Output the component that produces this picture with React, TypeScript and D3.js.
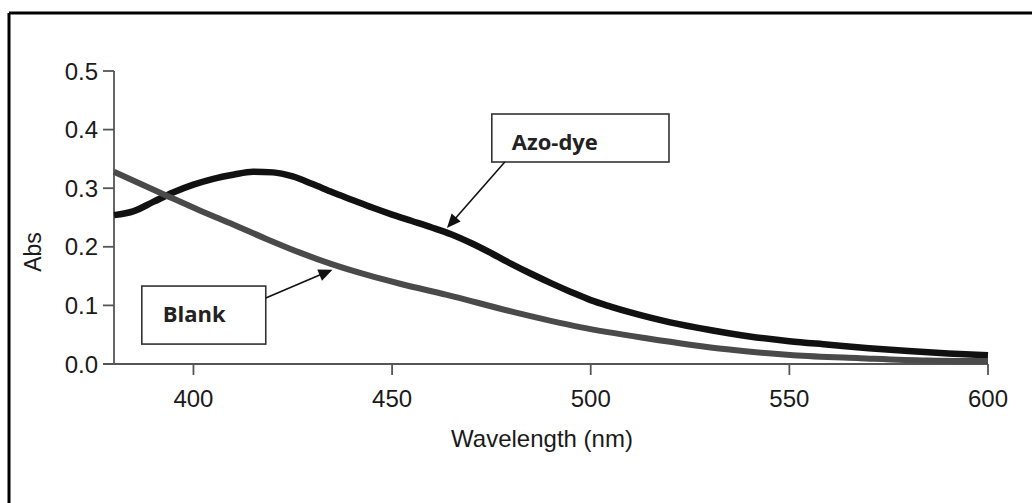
import React from "react";
import * as d3 from "d3";

// Wavelength (nm) sample points and absorbance values
const azoWavelengths = [380, 385, 390, 395, 400, 405, 410, 415, 420, 425, 430, 435, 440, 445, 450, 455, 460, 465, 470, 475, 480, 485, 490, 495, 500, 505, 510, 515, 520, 530, 540, 550, 560, 570, 580, 590, 600];
const azoAbs = [0.254, 0.261, 0.277, 0.293, 0.306, 0.316, 0.323, 0.328, 0.327, 0.320, 0.307, 0.293, 0.280, 0.267, 0.255, 0.244, 0.233, 0.221, 0.206, 0.189, 0.171, 0.154, 0.138, 0.123, 0.109, 0.098, 0.088, 0.079, 0.071, 0.058, 0.047, 0.039, 0.033, 0.027, 0.022, 0.018, 0.015];

const blankWavelengths = [380, 393, 401.6, 410, 418.5, 426.8, 435, 443.7, 452, 463.8, 480.4, 497.3, 514, 534.3, 551, 567.8, 584.6, 600];
const blankAbs = [0.328, 0.288, 0.262, 0.238, 0.213, 0.190, 0.170, 0.152, 0.137, 0.118, 0.089, 0.063, 0.044, 0.025, 0.015, 0.010, 0.006, 0.005];

const xTicks = [400, 450, 500, 550, 600];
const yTicks = [0.0, 0.1, 0.2, 0.3, 0.4, 0.5];

const xLabel = "Wavelength (nm)";
const yLabel = "Abs";
const seriesNames = ["Azo-dye", "Blank"];

function Arrow({ x1, y1, x2, y2 }: { x1: number; y1: number; x2: number; y2: number }) {
  const dx = x2 - x1;
  const dy = y2 - y1;
  const len = Math.sqrt(dx * dx + dy * dy);
  const ux = dx / len;
  const uy = dy / len;
  const hl = 14;
  const hw = 6;
  const bx = x2 - ux * hl;
  const by = y2 - uy * hl;
  const pts = [
    [x2, y2],
    [bx - uy * hw, by + ux * hw],
    [bx + uy * hw, by - ux * hw],
  ];
  return (
    <g>
      <line x1={x1} y1={y1} x2={bx + ux * 2} y2={by + uy * 2} stroke="#111" strokeWidth={1.6} />
      <polygon points={pts.map((p) => p.join(",")).join(" ")} fill="#111" />
    </g>
  );
}

export default function App() {
  const W = 1032;
  const H = 503;
  const x = d3.scaleLinear().domain([380, 600]).range([114, 988]);
  const y = d3.scaleLinear().domain([0, 0.5]).range([364, 71]);
  const line = d3
    .line<[number, number]>()
    .x((d) => x(d[0]))
    .y((d) => y(d[1]))
    .curve(d3.curveMonotoneX);

  const azoPts = azoWavelengths.map((w, i) => [w, azoAbs[i]] as [number, number]);
  const blankPts = blankWavelengths.map((w, i) => [w, blankAbs[i]] as [number, number]);

  const axisColor = "#555";
  const tickLen = 11;
  const tickFont = "'Liberation Sans', Arial, sans-serif";
  const annFont = "'Open Sans', 'Noto Sans', sans-serif";

  const x0 = x.range()[0];
  const xEnd = x.range()[1];
  const yBase = y(0);

  // annotation boxes (data coordinates)
  const azoBox = { x0: x(475.1), x1: x(519.7), y0: y(0.4266), y1: y(0.3447) };
  const blankBox = { x0: x(387.0), x1: x(418.2), y0: y(0.133), y1: y(0.034) };

  return (
    <svg
      width={W}
      height={H}
      style={{ position: "absolute", left: 0, top: 0, background: "#fff" }}
    >
      <rect x={0} y={0} width={W} height={H} fill="#fff" />
      {/* outer frame */}
      <line x1={9} y1={13} x2={W} y2={13} stroke="#000" strokeWidth={3} />
      <line x1={9} y1={13} x2={9} y2={H} stroke="#000" strokeWidth={3} />

      {/* y axis */}
      <line x1={x0} y1={y(0.5)} x2={x0} y2={yBase} stroke={axisColor} strokeWidth={1.8} />
      {yTicks.map((t) => (
        <g key={"y" + t}>
          <line x1={x0 - tickLen} x2={x0} y1={y(t)} y2={y(t)} stroke={axisColor} strokeWidth={1.8} />
          <text
            x={x0 - tickLen - 5}
            y={y(t)}
            dy="0.36em"
            textAnchor="end"
            fontFamily={tickFont}
            fontSize={24}
            fill="#1a1a1a"
          >
            {t.toFixed(1)}
          </text>
        </g>
      ))}
      {/* x axis */}
      <line x1={x0 - tickLen} y1={yBase} x2={xEnd} y2={yBase} stroke={axisColor} strokeWidth={1.8} />
      {xTicks.map((t) => (
        <g key={"x" + t}>
          <line x1={x(t)} x2={x(t)} y1={yBase} y2={yBase + tickLen} stroke={axisColor} strokeWidth={1.8} />
          <text
            x={x(t)}
            y={yBase + 43}
            textAnchor="middle"
            fontFamily={tickFont}
            fontSize={24}
            fill="#1a1a1a"
          >
            {t}
          </text>
        </g>
      ))}
      <text
        x={(x0 + xEnd) / 2 - 9}
        y={447}
        textAnchor="middle"
        fontFamily={tickFont}
        fontSize={24}
        fill="#1a1a1a"
      >
        {xLabel}
      </text>
      <text
        transform={`translate(41, ${252}) rotate(-90)`}
        textAnchor="middle"
        fontFamily={tickFont}
        fontSize={23}
        fill="#1a1a1a"
      >
        {yLabel}
      </text>

      {/* series */}
      <path d={line(azoPts) || ""} fill="none" stroke="#111" strokeWidth={6.5} strokeLinejoin="round" />
      <path d={line(blankPts) || ""} fill="none" stroke="#4a4a4a" strokeWidth={6} strokeLinejoin="round" />

      {/* annotations */}
      <rect
        x={azoBox.x0}
        y={azoBox.y0}
        width={azoBox.x1 - azoBox.x0}
        height={azoBox.y1 - azoBox.y0}
        fill="#fff"
        stroke="#333"
        strokeWidth={1.6}
      />
      <text x={azoBox.x0 + 20} y={azoBox.y0 + 36} fontFamily={annFont} fontWeight={700} fontSize={22} fill="#222">
        {seriesNames[0]}
      </text>
      <Arrow x1={azoBox.x0 + 13} y1={azoBox.y1} x2={x(463.8)} y2={y(0.232)} />

      <rect
        x={blankBox.x0}
        y={blankBox.y0}
        width={blankBox.x1 - blankBox.x0}
        height={blankBox.y1 - blankBox.y0}
        fill="#fff"
        stroke="#333"
        strokeWidth={1.6}
      />
      <text x={blankBox.x0 + 21} y={blankBox.y0 + 36} fontFamily={annFont} fontWeight={700} fontSize={22} fill="#222">
        {seriesNames[1]}
      </text>
      <Arrow x1={blankBox.x1} y1={blankBox.y0 + 12} x2={x(435)} y2={y(0.161)} />
    </svg>
  );
}
